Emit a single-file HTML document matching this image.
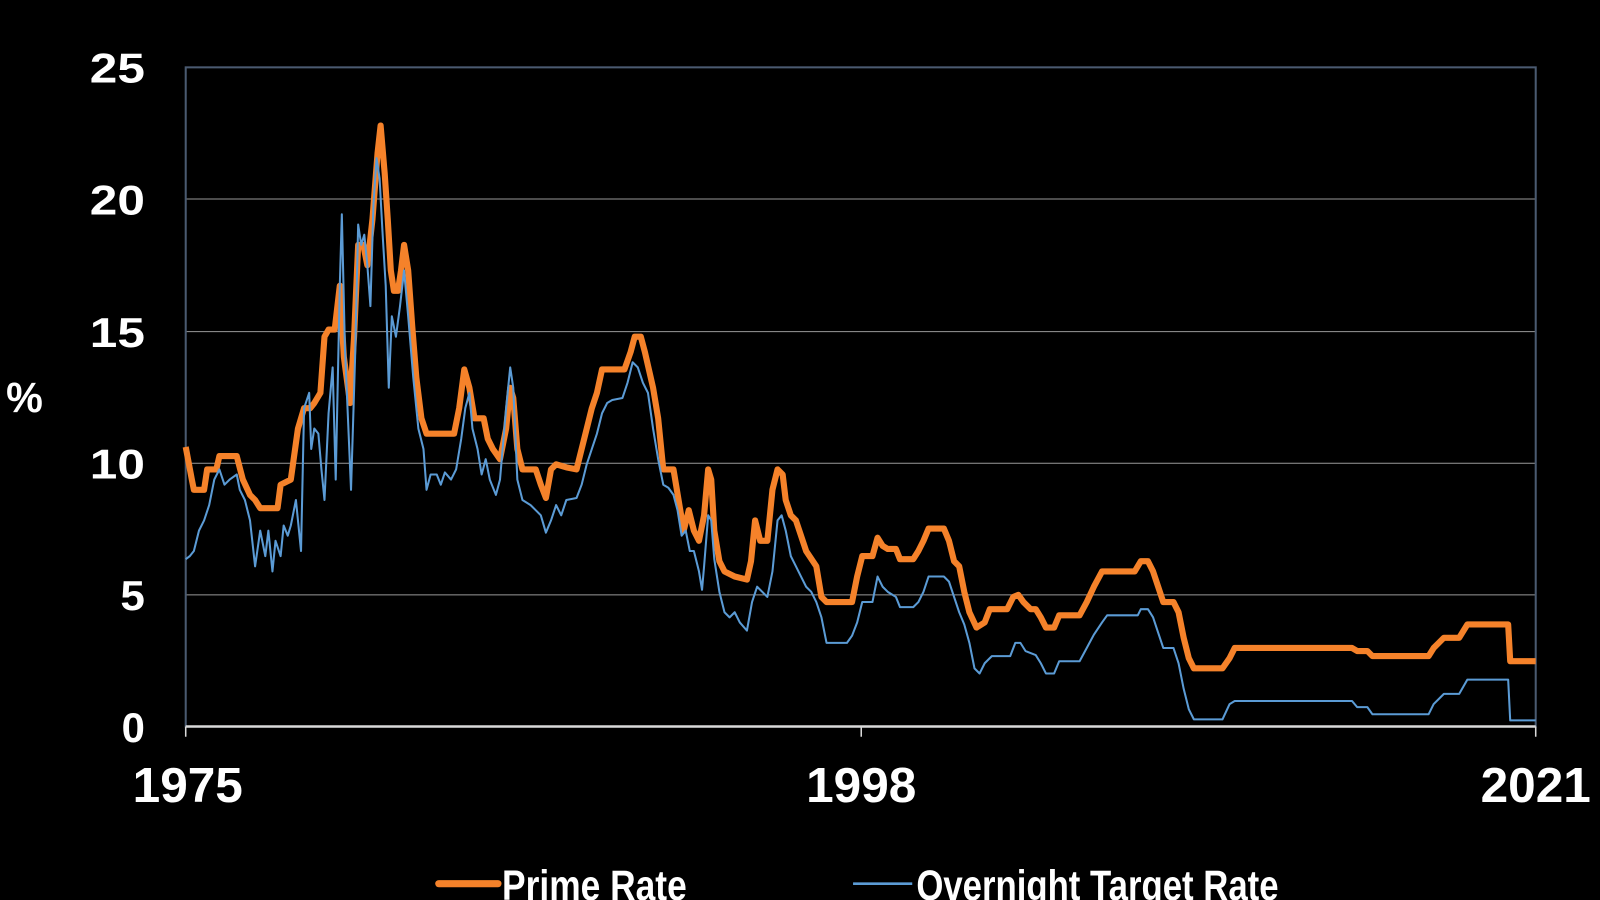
<!DOCTYPE html>
<html><head><meta charset="utf-8"><style>
html,body{margin:0;padding:0;background:#000;width:1600px;height:900px;overflow:hidden}
svg{display:block}
text{font-family:"Liberation Sans Narrow","Liberation Sans",sans-serif;font-weight:bold;fill:#fff}
</style></head><body>
<svg width="1600" height="900" viewBox="0 0 1568 882" preserveAspectRatio="none">
<rect width="1568" height="882" fill="#000"/>
<g stroke="#999" stroke-width="1">
<line x1="182" y1="583" x2="1505" y2="583"/>
<line x1="182" y1="454" x2="1505" y2="454"/>
<line x1="182" y1="325" x2="1505" y2="325"/>
<line x1="182" y1="195" x2="1505" y2="195"/>
</g>
<rect x="182" y="66" width="1323" height="646" fill="none" stroke="#4a5a70" stroke-width="2"/>
<line x1="182" y1="712" x2="1505" y2="712" stroke="#d9d9d9" stroke-width="2.5"/>
<g stroke="#d9d9d9" stroke-width="1.5"><line x1="182" y1="712" x2="182" y2="722"/><line x1="844" y1="712" x2="844" y2="722"/><line x1="1505" y1="712" x2="1505" y2="722"/></g>
<polyline fill="none" stroke="#f5822a" stroke-width="6" stroke-linejoin="round" points="182,438 188,470 190,480 200,480 203,460 212,460 215,447 232,447 238,470 245,485 250,490 255,498 272,498 275,475 285,470 292,420 298,400 304,400 308,395 314,385 318,330 322,323 328,323 333,280 337,350 343,395 347,330 351,240 356,240 360,260 365,215 370,150 373,123 377,170 380,215 383,265 386,285 390,285 393,265 396,240 400,265 404,320 408,370 413,410 418,425 445,425 450,400 455,362 460,380 465,410 474,410 478,430 483,440 490,450 496,420 500,380 503,390 507,440 512,460 525,460 530,475 535,488 540,460 545,455 555,458 565,460 570,440 575,420 580,400 585,385 590,362 612,362 618,345 622,330 628,330 632,345 640,380 645,410 650,460 660,460 665,490 670,520 675,500 680,520 685,530 690,505 694,460 697,470 700,520 705,550 710,560 720,565 732,568 736,550 740,510 745,530 752,530 757,480 762,460 767,465 770,490 775,505 780,510 785,525 790,540 800,555 805,585 810,590 835,590 840,565 845,545 855,545 860,527 865,535 870,538 878,538 882,548 895,548 900,540 905,530 910,518 925,518 930,530 935,550 940,555 945,580 950,600 957,615 965,610 970,597 987,597 993,585 998,583 1003,590 1010,597 1015,597 1020,605 1025,615 1033,615 1038,603 1058,603 1065,590 1072,575 1080,560 1112,560 1118,550 1125,550 1130,560 1135,575 1140,590 1150,590 1155,600 1160,625 1165,645 1170,655 1198,655 1205,645 1210,635 1325,635 1330,638 1340,638 1345,643 1400,643 1405,635 1410,630 1415,625 1430,625 1438,612 1478,612 1480,648 1505,648"/>
<polyline fill="none" stroke="#5b9bd5" stroke-width="2" stroke-linejoin="round" points="182,548 186,545 190,540 195,520 200,510 205,495 210,470 215,460 220,475 225,470 232,465 235,480 240,490 245,510 250,555 255,520 260,545 263,520 267,560 270,530 275,545 278,515 282,525 285,515 290,490 295,540 298,400 303,385 305,440 308,420 312,425 315,460 318,490 322,405 326,360 329,470 333,280 335,210 338,340 341,410 344,480 348,350 351,220 354,240 357,230 360,260 363,300 366,200 369,155 372,175 375,230 378,280 381,380 384,310 388,330 392,300 396,265 400,310 405,370 410,420 415,440 418,480 422,465 428,465 432,475 436,463 442,470 447,460 452,430 456,400 460,385 463,420 468,440 472,465 476,450 480,470 486,485 490,470 496,400 500,360 503,380 507,470 512,490 520,495 525,500 530,505 535,522 540,510 545,495 550,505 555,490 565,488 570,475 575,455 580,440 585,425 590,405 595,395 600,392 610,390 615,375 620,355 625,360 630,375 635,385 640,420 645,450 650,475 655,478 660,485 664,500 668,525 672,520 676,540 680,540 685,560 688,578 690,555 694,505 697,510 700,548 705,580 710,600 715,605 720,600 725,610 732,618 737,590 742,575 747,580 752,585 757,560 762,510 766,505 770,520 775,545 780,555 785,565 790,575 795,580 800,590 805,605 810,630 830,630 835,623 840,610 845,590 855,590 860,565 865,575 870,580 878,585 882,595 895,595 900,590 905,580 910,565 925,565 930,570 935,585 940,600 945,612 950,630 955,655 960,660 965,650 972,643 990,643 995,630 1000,630 1005,638 1015,642 1020,650 1025,660 1033,660 1038,648 1058,648 1065,635 1072,622 1080,610 1085,603 1115,603 1118,597 1125,597 1130,605 1135,620 1140,635 1150,635 1155,650 1160,675 1165,695 1170,705 1198,705 1205,690 1210,687 1325,687 1330,693 1340,693 1345,700 1400,700 1405,690 1410,685 1415,680 1430,680 1438,666 1478,666 1480,706 1505,706"/>
<g font-size="41" text-anchor="end">
<text x="142" y="727">0</text>
<text x="142" y="598" textLength="24" lengthAdjust="spacingAndGlyphs">5</text>
<text x="142" y="469" textLength="54" lengthAdjust="spacingAndGlyphs">10</text>
<text x="142" y="340" textLength="54" lengthAdjust="spacingAndGlyphs">15</text>
<text x="142" y="210" textLength="54" lengthAdjust="spacingAndGlyphs">20</text>
<text x="142" y="81" textLength="54" lengthAdjust="spacingAndGlyphs">25</text>
</g>
<text x="6" y="404" font-size="42" textLength="36" lengthAdjust="spacingAndGlyphs">%</text>
<g font-size="48">
<text x="130" y="786" textLength="108" lengthAdjust="spacingAndGlyphs">1975</text>
<text x="790" y="786" textLength="108" lengthAdjust="spacingAndGlyphs">1998</text>
<text x="1451" y="786" textLength="108" lengthAdjust="spacingAndGlyphs">2021</text>
</g>
<line x1="430" y1="866" x2="488" y2="866" stroke="#f5822a" stroke-width="7" stroke-linecap="round"/>
<text x="492" y="882" font-size="42" textLength="181" lengthAdjust="spacingAndGlyphs">Prime Rate</text>
<line x1="836" y1="866" x2="894" y2="866" stroke="#5b9bd5" stroke-width="2.5"/>
<text x="898" y="882" font-size="42" textLength="355" lengthAdjust="spacingAndGlyphs">Overnight Target Rate</text>
</svg>
</body></html>
